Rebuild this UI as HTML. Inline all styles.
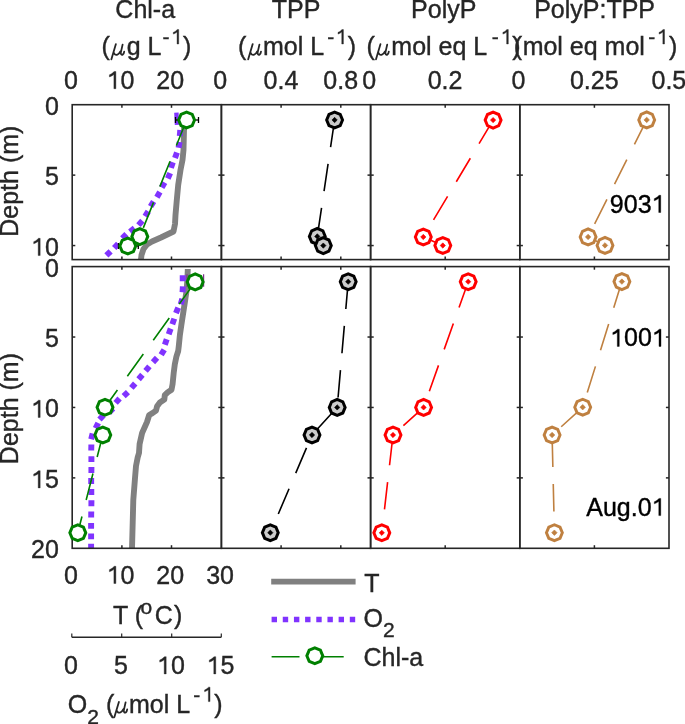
<!DOCTYPE html><html><head><meta charset="utf-8"><style>html,body{margin:0;padding:0;background:#fff;width:685px;height:724px;overflow:hidden}#w{position:absolute;left:0;top:0;width:685px;height:724px;will-change:transform}svg{display:block}</style></head><body><div id="w"><svg width="685" height="724" viewBox="0 0 685 724">
<defs><clipPath id="c1t"><rect x="72.2" y="104.7" width="149.2" height="154.90000000000003"/></clipPath><clipPath id="c1b"><rect x="72.2" y="266.6" width="149.2" height="281.69999999999993"/></clipPath></defs>
<g clip-path="url(#c1t)">
<polyline points="184.50,121.00 184.00,130.00 183.50,150.00 182.50,160.00 180.50,170.00 178.20,185.00 176.80,200.00 175.50,215.00 175.00,224.00 173.50,231.50 161.00,237.50 152.00,241.50 147.00,244.50 143.50,249.00 141.50,255.00 140.80,261.00" fill="none" stroke="#808080" stroke-width="5.9" stroke-linecap="butt" stroke-linejoin="round" />
<line x1="176.40" y1="112.60" x2="177.00" y2="124.80" stroke="#8033FF" stroke-width="4.4" />
<line x1="180.22" y1="130.06" x2="179.78" y2="135.94" stroke="#8033FF" stroke-width="5.9"/>
<line x1="179.62" y1="141.90" x2="178.58" y2="147.70" stroke="#8033FF" stroke-width="5.9"/>
<line x1="176.99" y1="152.42" x2="175.01" y2="157.98" stroke="#8033FF" stroke-width="5.9"/>
<line x1="172.85" y1="162.31" x2="170.95" y2="167.89" stroke="#8033FF" stroke-width="5.9"/>
<line x1="170.18" y1="173.10" x2="167.82" y2="178.50" stroke="#8033FF" stroke-width="5.9"/>
<line x1="164.65" y1="182.43" x2="161.75" y2="187.57" stroke="#8033FF" stroke-width="5.9"/>
<line x1="159.89" y1="192.05" x2="156.91" y2="197.15" stroke="#8033FF" stroke-width="5.9"/>
<line x1="153.63" y1="201.48" x2="150.57" y2="206.52" stroke="#8033FF" stroke-width="5.9"/>
<line x1="148.25" y1="211.39" x2="145.15" y2="216.41" stroke="#8033FF" stroke-width="5.9"/>
<line x1="142.37" y1="220.70" x2="138.43" y2="225.10" stroke="#8033FF" stroke-width="5.9"/>
<line x1="134.57" y1="228.11" x2="130.03" y2="231.89" stroke="#8033FF" stroke-width="5.9"/>
<line x1="126.41" y1="234.23" x2="122.19" y2="238.37" stroke="#8033FF" stroke-width="5.9"/>
<line x1="118.20" y1="243.63" x2="114.20" y2="247.97" stroke="#8033FF" stroke-width="5.9"/>
<line x1="110.60" y1="251.33" x2="106.40" y2="255.47" stroke="#8033FF" stroke-width="5.9"/>
<polyline points="186.60,120.00 139.80,236.60 127.80,246.00" fill="none" stroke="#008000" stroke-width="1.6" stroke-linecap="butt" stroke-linejoin="round" stroke-dasharray="27.4 17.0" />
</g>
<g clip-path="url(#c1b)">
<polyline points="187.80,269.00 187.30,281.00 186.50,291.00 184.90,302.00 183.20,313.00 181.50,324.00 179.90,335.00 178.80,346.00 178.20,351.00 176.40,356.60 174.80,364.30 173.70,373.00 172.60,384.00 171.50,389.70 167.60,392.40 164.80,395.20 164.30,399.60 159.90,402.40 157.10,406.20 156.00,410.60 152.10,413.40 149.20,415.00 147.00,422.00 142.10,433.00 139.60,444.00 139.00,453.00 137.70,457.40 136.00,466.00 134.90,479.50 133.30,500.00 132.00,549.00" fill="none" stroke="#808080" stroke-width="5.9" stroke-linecap="butt" stroke-linejoin="round" />
<line x1="182.70" y1="275.35" x2="182.70" y2="281.25" stroke="#8033FF" stroke-width="5.9"/>
<line x1="182.85" y1="286.35" x2="182.55" y2="292.25" stroke="#8033FF" stroke-width="5.9"/>
<line x1="182.26" y1="298.65" x2="180.74" y2="304.35" stroke="#8033FF" stroke-width="5.9"/>
<line x1="178.22" y1="307.67" x2="175.98" y2="313.13" stroke="#8033FF" stroke-width="5.9"/>
<line x1="174.28" y1="318.62" x2="172.32" y2="324.18" stroke="#8033FF" stroke-width="5.9"/>
<line x1="170.71" y1="328.63" x2="168.69" y2="334.17" stroke="#8033FF" stroke-width="5.9"/>
<line x1="166.74" y1="339.20" x2="164.86" y2="344.80" stroke="#8033FF" stroke-width="5.9"/>
<line x1="164.22" y1="349.67" x2="161.18" y2="354.73" stroke="#8033FF" stroke-width="5.9"/>
<line x1="157.00" y1="357.83" x2="153.00" y2="362.17" stroke="#8033FF" stroke-width="5.9"/>
<line x1="149.41" y1="366.46" x2="145.59" y2="370.94" stroke="#8033FF" stroke-width="5.9"/>
<line x1="142.39" y1="374.74" x2="138.61" y2="379.26" stroke="#8033FF" stroke-width="5.9"/>
<line x1="135.22" y1="383.46" x2="131.38" y2="387.94" stroke="#8033FF" stroke-width="5.9"/>
<line x1="127.93" y1="392.16" x2="123.67" y2="396.24" stroke="#8033FF" stroke-width="5.9"/>
<line x1="119.58" y1="398.52" x2="115.62" y2="402.88" stroke="#8033FF" stroke-width="5.9"/>
<line x1="113.05" y1="408.38" x2="108.95" y2="412.62" stroke="#8033FF" stroke-width="5.9"/>
<line x1="103.51" y1="415.14" x2="99.49" y2="419.46" stroke="#8033FF" stroke-width="5.9"/>
<line x1="98.22" y1="422.96" x2="95.58" y2="428.24" stroke="#8033FF" stroke-width="5.9"/>
<line x1="92.63" y1="433.54" x2="91.17" y2="439.26" stroke="#8033FF" stroke-width="5.9"/>
<line x1="91.36" y1="444.55" x2="91.24" y2="450.45" stroke="#8033FF" stroke-width="5.9"/>
<line x1="91.39" y1="456.15" x2="91.41" y2="462.05" stroke="#8033FF" stroke-width="5.9"/>
<line x1="91.43" y1="467.05" x2="91.37" y2="472.95" stroke="#8033FF" stroke-width="5.9"/>
<line x1="91.21" y1="478.05" x2="91.19" y2="483.95" stroke="#8033FF" stroke-width="5.9"/>
<line x1="91.27" y1="489.05" x2="91.33" y2="494.95" stroke="#8033FF" stroke-width="5.9"/>
<line x1="91.41" y1="500.35" x2="91.39" y2="506.25" stroke="#8033FF" stroke-width="5.9"/>
<line x1="91.24" y1="511.55" x2="91.16" y2="517.45" stroke="#8033FF" stroke-width="5.9"/>
<line x1="91.11" y1="522.95" x2="91.09" y2="528.85" stroke="#8033FF" stroke-width="5.9"/>
<line x1="91.10" y1="533.45" x2="91.10" y2="539.35" stroke="#8033FF" stroke-width="5.9"/>
<line x1="91.10" y1="543.65" x2="91.10" y2="549.55" stroke="#8033FF" stroke-width="5.9"/>
<polyline points="195.20,281.90 105.00,407.30 102.80,435.00 77.80,532.80" fill="none" stroke="#008000" stroke-width="1.6" stroke-linecap="butt" stroke-linejoin="round" stroke-dasharray="27.4 17.0" />
</g>
<polyline points="334.60,120.00 317.30,236.40 323.30,245.60" fill="none" stroke="#000000" stroke-width="1.6" stroke-linecap="butt" stroke-linejoin="round" stroke-dasharray="27.4 17.0" />
<polyline points="348.20,281.70 337.20,407.40 312.00,435.00 270.30,532.70" fill="none" stroke="#000000" stroke-width="1.6" stroke-linecap="butt" stroke-linejoin="round" stroke-dasharray="27.4 17.0" />
<polyline points="493.10,120.10 423.30,237.00 442.80,245.50" fill="none" stroke="#FF0000" stroke-width="1.6" stroke-linecap="butt" stroke-linejoin="round" stroke-dasharray="27.4 17.0" />
<polyline points="468.20,281.70 423.60,407.40 393.00,435.00 381.80,532.80" fill="none" stroke="#FF0000" stroke-width="1.6" stroke-linecap="butt" stroke-linejoin="round" stroke-dasharray="27.4 17.0" />
<polyline points="646.70,119.90 588.10,236.90 605.00,245.40" fill="none" stroke="#BF8040" stroke-width="1.6" stroke-linecap="butt" stroke-linejoin="round" stroke-dasharray="27.4 17.0" />
<polyline points="621.90,281.60 582.70,407.20 552.10,435.00 554.40,532.70" fill="none" stroke="#BF8040" stroke-width="1.6" stroke-linecap="butt" stroke-linejoin="round" stroke-dasharray="27.4 17.0" />
<rect x="72.2" y="104.7" width="149.20" height="154.90" fill="none" stroke="#262626" stroke-width="1.6"/>
<line x1="121.90" y1="104.70" x2="121.90" y2="107.80" stroke="#262626" stroke-width="1.5" />
<line x1="121.90" y1="259.60" x2="121.90" y2="256.50" stroke="#262626" stroke-width="1.5" />
<line x1="171.50" y1="104.70" x2="171.50" y2="107.80" stroke="#262626" stroke-width="1.5" />
<line x1="171.50" y1="259.60" x2="171.50" y2="256.50" stroke="#262626" stroke-width="1.5" />
<line x1="72.20" y1="175.12" x2="75.30" y2="175.12" stroke="#262626" stroke-width="1.5" />
<line x1="221.40" y1="175.12" x2="218.30" y2="175.12" stroke="#262626" stroke-width="1.5" />
<line x1="72.20" y1="245.55" x2="75.30" y2="245.55" stroke="#262626" stroke-width="1.5" />
<line x1="221.40" y1="245.55" x2="218.30" y2="245.55" stroke="#262626" stroke-width="1.5" />
<rect x="221.4" y="104.7" width="149.20" height="154.90" fill="none" stroke="#262626" stroke-width="1.6"/>
<line x1="281.10" y1="104.70" x2="281.10" y2="107.80" stroke="#262626" stroke-width="1.5" />
<line x1="281.10" y1="259.60" x2="281.10" y2="256.50" stroke="#262626" stroke-width="1.5" />
<line x1="340.80" y1="104.70" x2="340.80" y2="107.80" stroke="#262626" stroke-width="1.5" />
<line x1="340.80" y1="259.60" x2="340.80" y2="256.50" stroke="#262626" stroke-width="1.5" />
<line x1="221.40" y1="175.12" x2="224.50" y2="175.12" stroke="#262626" stroke-width="1.5" />
<line x1="370.60" y1="175.12" x2="367.50" y2="175.12" stroke="#262626" stroke-width="1.5" />
<line x1="221.40" y1="245.55" x2="224.50" y2="245.55" stroke="#262626" stroke-width="1.5" />
<line x1="370.60" y1="245.55" x2="367.50" y2="245.55" stroke="#262626" stroke-width="1.5" />
<rect x="370.6" y="104.7" width="149.20" height="154.90" fill="none" stroke="#262626" stroke-width="1.6"/>
<line x1="445.20" y1="104.70" x2="445.20" y2="107.80" stroke="#262626" stroke-width="1.5" />
<line x1="445.20" y1="259.60" x2="445.20" y2="256.50" stroke="#262626" stroke-width="1.5" />
<line x1="370.60" y1="175.12" x2="373.70" y2="175.12" stroke="#262626" stroke-width="1.5" />
<line x1="519.80" y1="175.12" x2="516.70" y2="175.12" stroke="#262626" stroke-width="1.5" />
<line x1="370.60" y1="245.55" x2="373.70" y2="245.55" stroke="#262626" stroke-width="1.5" />
<line x1="519.80" y1="245.55" x2="516.70" y2="245.55" stroke="#262626" stroke-width="1.5" />
<rect x="519.8" y="104.7" width="149.20" height="154.90" fill="none" stroke="#262626" stroke-width="1.6"/>
<line x1="594.40" y1="104.70" x2="594.40" y2="107.80" stroke="#262626" stroke-width="1.5" />
<line x1="594.40" y1="259.60" x2="594.40" y2="256.50" stroke="#262626" stroke-width="1.5" />
<line x1="519.80" y1="175.12" x2="522.90" y2="175.12" stroke="#262626" stroke-width="1.5" />
<line x1="669.00" y1="175.12" x2="665.90" y2="175.12" stroke="#262626" stroke-width="1.5" />
<line x1="519.80" y1="245.55" x2="522.90" y2="245.55" stroke="#262626" stroke-width="1.5" />
<line x1="669.00" y1="245.55" x2="665.90" y2="245.55" stroke="#262626" stroke-width="1.5" />
<rect x="72.2" y="266.6" width="149.20" height="281.70" fill="none" stroke="#262626" stroke-width="1.6"/>
<line x1="121.90" y1="266.60" x2="121.90" y2="269.70" stroke="#262626" stroke-width="1.5" />
<line x1="121.90" y1="548.30" x2="121.90" y2="545.20" stroke="#262626" stroke-width="1.5" />
<line x1="171.50" y1="266.60" x2="171.50" y2="269.70" stroke="#262626" stroke-width="1.5" />
<line x1="171.50" y1="548.30" x2="171.50" y2="545.20" stroke="#262626" stroke-width="1.5" />
<line x1="72.20" y1="337.03" x2="75.30" y2="337.03" stroke="#262626" stroke-width="1.5" />
<line x1="221.40" y1="337.03" x2="218.30" y2="337.03" stroke="#262626" stroke-width="1.5" />
<line x1="72.20" y1="407.45" x2="75.30" y2="407.45" stroke="#262626" stroke-width="1.5" />
<line x1="221.40" y1="407.45" x2="218.30" y2="407.45" stroke="#262626" stroke-width="1.5" />
<line x1="72.20" y1="477.88" x2="75.30" y2="477.88" stroke="#262626" stroke-width="1.5" />
<line x1="221.40" y1="477.88" x2="218.30" y2="477.88" stroke="#262626" stroke-width="1.5" />
<rect x="221.4" y="266.6" width="149.20" height="281.70" fill="none" stroke="#262626" stroke-width="1.6"/>
<line x1="281.10" y1="266.60" x2="281.10" y2="269.70" stroke="#262626" stroke-width="1.5" />
<line x1="281.10" y1="548.30" x2="281.10" y2="545.20" stroke="#262626" stroke-width="1.5" />
<line x1="340.80" y1="266.60" x2="340.80" y2="269.70" stroke="#262626" stroke-width="1.5" />
<line x1="340.80" y1="548.30" x2="340.80" y2="545.20" stroke="#262626" stroke-width="1.5" />
<line x1="221.40" y1="337.03" x2="224.50" y2="337.03" stroke="#262626" stroke-width="1.5" />
<line x1="370.60" y1="337.03" x2="367.50" y2="337.03" stroke="#262626" stroke-width="1.5" />
<line x1="221.40" y1="407.45" x2="224.50" y2="407.45" stroke="#262626" stroke-width="1.5" />
<line x1="370.60" y1="407.45" x2="367.50" y2="407.45" stroke="#262626" stroke-width="1.5" />
<line x1="221.40" y1="477.88" x2="224.50" y2="477.88" stroke="#262626" stroke-width="1.5" />
<line x1="370.60" y1="477.88" x2="367.50" y2="477.88" stroke="#262626" stroke-width="1.5" />
<rect x="370.6" y="266.6" width="149.20" height="281.70" fill="none" stroke="#262626" stroke-width="1.6"/>
<line x1="445.20" y1="266.60" x2="445.20" y2="269.70" stroke="#262626" stroke-width="1.5" />
<line x1="445.20" y1="548.30" x2="445.20" y2="545.20" stroke="#262626" stroke-width="1.5" />
<line x1="370.60" y1="337.03" x2="373.70" y2="337.03" stroke="#262626" stroke-width="1.5" />
<line x1="519.80" y1="337.03" x2="516.70" y2="337.03" stroke="#262626" stroke-width="1.5" />
<line x1="370.60" y1="407.45" x2="373.70" y2="407.45" stroke="#262626" stroke-width="1.5" />
<line x1="519.80" y1="407.45" x2="516.70" y2="407.45" stroke="#262626" stroke-width="1.5" />
<line x1="370.60" y1="477.88" x2="373.70" y2="477.88" stroke="#262626" stroke-width="1.5" />
<line x1="519.80" y1="477.88" x2="516.70" y2="477.88" stroke="#262626" stroke-width="1.5" />
<rect x="519.8" y="266.6" width="149.20" height="281.70" fill="none" stroke="#262626" stroke-width="1.6"/>
<line x1="594.40" y1="266.60" x2="594.40" y2="269.70" stroke="#262626" stroke-width="1.5" />
<line x1="594.40" y1="548.30" x2="594.40" y2="545.20" stroke="#262626" stroke-width="1.5" />
<line x1="519.80" y1="337.03" x2="522.90" y2="337.03" stroke="#262626" stroke-width="1.5" />
<line x1="669.00" y1="337.03" x2="665.90" y2="337.03" stroke="#262626" stroke-width="1.5" />
<line x1="519.80" y1="407.45" x2="522.90" y2="407.45" stroke="#262626" stroke-width="1.5" />
<line x1="669.00" y1="407.45" x2="665.90" y2="407.45" stroke="#262626" stroke-width="1.5" />
<line x1="519.80" y1="477.88" x2="522.90" y2="477.88" stroke="#262626" stroke-width="1.5" />
<line x1="669.00" y1="477.88" x2="665.90" y2="477.88" stroke="#262626" stroke-width="1.5" />
<line x1="175.50" y1="120.00" x2="198.50" y2="120.00" stroke="#000000" stroke-width="1.3" />
<line x1="175.50" y1="117.00" x2="175.50" y2="123.00" stroke="#000000" stroke-width="1.3" />
<line x1="198.50" y1="117.00" x2="198.50" y2="123.00" stroke="#000000" stroke-width="1.3" />
<line x1="118.50" y1="246.00" x2="138.30" y2="246.00" stroke="#000000" stroke-width="1.3" />
<line x1="118.50" y1="243.00" x2="118.50" y2="249.00" stroke="#000000" stroke-width="1.3" />
<line x1="138.30" y1="243.00" x2="138.30" y2="249.00" stroke="#000000" stroke-width="1.3" />
<line x1="187.00" y1="274.20" x2="187.00" y2="286.70" stroke="#7E2F8E" stroke-width="1.2" />
<line x1="203.60" y1="274.20" x2="203.60" y2="286.70" stroke="#7E2F8E" stroke-width="1.2" />
<polygon points="194.54,120.00 192.21,125.61 186.60,127.94 180.99,125.61 178.66,120.00 180.99,114.39 186.60,112.06 192.21,114.39" fill="#fff" stroke="#008000" stroke-width="3.0" stroke-linejoin="miter"/>
<polygon points="147.74,236.60 145.41,242.21 139.80,244.54 134.19,242.21 131.86,236.60 134.19,230.99 139.80,228.66 145.41,230.99" fill="#fff" stroke="#008000" stroke-width="3.0" stroke-linejoin="miter"/>
<polygon points="135.74,246.00 133.41,251.61 127.80,253.94 122.19,251.61 119.86,246.00 122.19,240.39 127.80,238.06 133.41,240.39" fill="#fff" stroke="#008000" stroke-width="3.0" stroke-linejoin="miter"/>
<polygon points="203.14,281.90 200.81,287.51 195.20,289.84 189.59,287.51 187.26,281.90 189.59,276.29 195.20,273.96 200.81,276.29" fill="#fff" stroke="#008000" stroke-width="3.0" stroke-linejoin="miter"/>
<polygon points="112.94,407.30 110.61,412.91 105.00,415.24 99.39,412.91 97.06,407.30 99.39,401.69 105.00,399.36 110.61,401.69" fill="#fff" stroke="#008000" stroke-width="3.0" stroke-linejoin="miter"/>
<polygon points="110.74,435.00 108.41,440.61 102.80,442.94 97.19,440.61 94.86,435.00 97.19,429.39 102.80,427.06 108.41,429.39" fill="#fff" stroke="#008000" stroke-width="3.0" stroke-linejoin="miter"/>
<polygon points="85.74,532.80 83.41,538.41 77.80,540.74 72.19,538.41 69.86,532.80 72.19,527.19 77.80,524.86 83.41,527.19" fill="#fff" stroke="#008000" stroke-width="3.0" stroke-linejoin="miter"/>
<polygon points="342.54,120.00 340.21,125.61 334.60,127.94 328.99,125.61 326.66,120.00 328.99,114.39 334.60,112.06 340.21,114.39" fill="#CCCCCC" stroke="#000000" stroke-width="3.0" stroke-linejoin="miter"/>
<polygon points="334.60,117.35 337.25,120.00 334.60,122.65 331.95,120.00" fill="#000000" stroke="#000000" stroke-width="0.6" stroke-linejoin="round"/>
<polygon points="325.24,236.40 322.91,242.01 317.30,244.34 311.69,242.01 309.36,236.40 311.69,230.79 317.30,228.46 322.91,230.79" fill="#CCCCCC" stroke="#000000" stroke-width="3.0" stroke-linejoin="miter"/>
<polygon points="317.30,233.75 319.95,236.40 317.30,239.05 314.65,236.40" fill="#000000" stroke="#000000" stroke-width="0.6" stroke-linejoin="round"/>
<polygon points="331.24,245.60 328.91,251.21 323.30,253.54 317.69,251.21 315.36,245.60 317.69,239.99 323.30,237.66 328.91,239.99" fill="#CCCCCC" stroke="#000000" stroke-width="3.0" stroke-linejoin="miter"/>
<polygon points="323.30,242.95 325.95,245.60 323.30,248.25 320.65,245.60" fill="#000000" stroke="#000000" stroke-width="0.6" stroke-linejoin="round"/>
<polygon points="356.14,281.70 353.81,287.31 348.20,289.64 342.59,287.31 340.26,281.70 342.59,276.09 348.20,273.76 353.81,276.09" fill="#CCCCCC" stroke="#000000" stroke-width="3.0" stroke-linejoin="miter"/>
<polygon points="348.20,279.05 350.85,281.70 348.20,284.35 345.55,281.70" fill="#000000" stroke="#000000" stroke-width="0.6" stroke-linejoin="round"/>
<polygon points="345.14,407.40 342.81,413.01 337.20,415.34 331.59,413.01 329.26,407.40 331.59,401.79 337.20,399.46 342.81,401.79" fill="#CCCCCC" stroke="#000000" stroke-width="3.0" stroke-linejoin="miter"/>
<polygon points="337.20,404.75 339.85,407.40 337.20,410.05 334.55,407.40" fill="#000000" stroke="#000000" stroke-width="0.6" stroke-linejoin="round"/>
<polygon points="319.94,435.00 317.61,440.61 312.00,442.94 306.39,440.61 304.06,435.00 306.39,429.39 312.00,427.06 317.61,429.39" fill="#CCCCCC" stroke="#000000" stroke-width="3.0" stroke-linejoin="miter"/>
<polygon points="312.00,432.35 314.65,435.00 312.00,437.65 309.35,435.00" fill="#000000" stroke="#000000" stroke-width="0.6" stroke-linejoin="round"/>
<polygon points="278.24,532.70 275.91,538.31 270.30,540.64 264.69,538.31 262.36,532.70 264.69,527.09 270.30,524.76 275.91,527.09" fill="#CCCCCC" stroke="#000000" stroke-width="3.0" stroke-linejoin="miter"/>
<polygon points="270.30,530.05 272.95,532.70 270.30,535.35 267.65,532.70" fill="#000000" stroke="#000000" stroke-width="0.6" stroke-linejoin="round"/>
<polygon points="501.04,120.10 498.71,125.71 493.10,128.04 487.49,125.71 485.16,120.10 487.49,114.49 493.10,112.16 498.71,114.49" fill="#fff" stroke="#FF0000" stroke-width="3.0" stroke-linejoin="miter"/>
<polygon points="493.10,117.45 495.75,120.10 493.10,122.75 490.45,120.10" fill="#FF0000" stroke="#FF0000" stroke-width="0.6" stroke-linejoin="round"/>
<polygon points="431.24,237.00 428.91,242.61 423.30,244.94 417.69,242.61 415.36,237.00 417.69,231.39 423.30,229.06 428.91,231.39" fill="#fff" stroke="#FF0000" stroke-width="3.0" stroke-linejoin="miter"/>
<polygon points="423.30,234.35 425.95,237.00 423.30,239.65 420.65,237.00" fill="#FF0000" stroke="#FF0000" stroke-width="0.6" stroke-linejoin="round"/>
<polygon points="450.74,245.50 448.41,251.11 442.80,253.44 437.19,251.11 434.86,245.50 437.19,239.89 442.80,237.56 448.41,239.89" fill="#fff" stroke="#FF0000" stroke-width="3.0" stroke-linejoin="miter"/>
<polygon points="442.80,242.85 445.45,245.50 442.80,248.15 440.15,245.50" fill="#FF0000" stroke="#FF0000" stroke-width="0.6" stroke-linejoin="round"/>
<polygon points="476.14,281.70 473.81,287.31 468.20,289.64 462.59,287.31 460.26,281.70 462.59,276.09 468.20,273.76 473.81,276.09" fill="#fff" stroke="#FF0000" stroke-width="3.0" stroke-linejoin="miter"/>
<polygon points="468.20,279.05 470.85,281.70 468.20,284.35 465.55,281.70" fill="#FF0000" stroke="#FF0000" stroke-width="0.6" stroke-linejoin="round"/>
<polygon points="431.54,407.40 429.21,413.01 423.60,415.34 417.99,413.01 415.66,407.40 417.99,401.79 423.60,399.46 429.21,401.79" fill="#fff" stroke="#FF0000" stroke-width="3.0" stroke-linejoin="miter"/>
<polygon points="423.60,404.75 426.25,407.40 423.60,410.05 420.95,407.40" fill="#FF0000" stroke="#FF0000" stroke-width="0.6" stroke-linejoin="round"/>
<polygon points="400.94,435.00 398.61,440.61 393.00,442.94 387.39,440.61 385.06,435.00 387.39,429.39 393.00,427.06 398.61,429.39" fill="#fff" stroke="#FF0000" stroke-width="3.0" stroke-linejoin="miter"/>
<polygon points="393.00,432.35 395.65,435.00 393.00,437.65 390.35,435.00" fill="#FF0000" stroke="#FF0000" stroke-width="0.6" stroke-linejoin="round"/>
<polygon points="389.74,532.80 387.41,538.41 381.80,540.74 376.19,538.41 373.86,532.80 376.19,527.19 381.80,524.86 387.41,527.19" fill="#fff" stroke="#FF0000" stroke-width="3.0" stroke-linejoin="miter"/>
<polygon points="381.80,530.15 384.45,532.80 381.80,535.45 379.15,532.80" fill="#FF0000" stroke="#FF0000" stroke-width="0.6" stroke-linejoin="round"/>
<polygon points="654.64,119.90 652.31,125.51 646.70,127.84 641.09,125.51 638.76,119.90 641.09,114.29 646.70,111.96 652.31,114.29" fill="#fff" stroke="#BF8040" stroke-width="2.95" stroke-linejoin="miter"/>
<polygon points="646.70,117.16 649.44,119.90 646.70,122.64 643.96,119.90" fill="#BF8040" stroke="#BF8040" stroke-width="0.6" stroke-linejoin="round"/>
<polygon points="596.04,236.90 593.71,242.51 588.10,244.84 582.49,242.51 580.16,236.90 582.49,231.29 588.10,228.96 593.71,231.29" fill="#fff" stroke="#BF8040" stroke-width="2.95" stroke-linejoin="miter"/>
<polygon points="588.10,234.16 590.84,236.90 588.10,239.64 585.36,236.90" fill="#BF8040" stroke="#BF8040" stroke-width="0.6" stroke-linejoin="round"/>
<polygon points="612.94,245.40 610.61,251.01 605.00,253.34 599.39,251.01 597.06,245.40 599.39,239.79 605.00,237.46 610.61,239.79" fill="#fff" stroke="#BF8040" stroke-width="2.95" stroke-linejoin="miter"/>
<polygon points="605.00,242.66 607.74,245.40 605.00,248.14 602.26,245.40" fill="#BF8040" stroke="#BF8040" stroke-width="0.6" stroke-linejoin="round"/>
<polygon points="629.84,281.60 627.51,287.21 621.90,289.54 616.29,287.21 613.96,281.60 616.29,275.99 621.90,273.66 627.51,275.99" fill="#fff" stroke="#BF8040" stroke-width="2.95" stroke-linejoin="miter"/>
<polygon points="621.90,278.86 624.64,281.60 621.90,284.34 619.16,281.60" fill="#BF8040" stroke="#BF8040" stroke-width="0.6" stroke-linejoin="round"/>
<polygon points="590.64,407.20 588.31,412.81 582.70,415.14 577.09,412.81 574.76,407.20 577.09,401.59 582.70,399.26 588.31,401.59" fill="#fff" stroke="#BF8040" stroke-width="2.95" stroke-linejoin="miter"/>
<polygon points="582.70,404.46 585.44,407.20 582.70,409.94 579.96,407.20" fill="#BF8040" stroke="#BF8040" stroke-width="0.6" stroke-linejoin="round"/>
<polygon points="560.04,435.00 557.71,440.61 552.10,442.94 546.49,440.61 544.16,435.00 546.49,429.39 552.10,427.06 557.71,429.39" fill="#fff" stroke="#BF8040" stroke-width="2.95" stroke-linejoin="miter"/>
<polygon points="552.10,432.26 554.84,435.00 552.10,437.74 549.36,435.00" fill="#BF8040" stroke="#BF8040" stroke-width="0.6" stroke-linejoin="round"/>
<polygon points="562.34,532.70 560.01,538.31 554.40,540.64 548.79,538.31 546.46,532.70 548.79,527.09 554.40,524.76 560.01,527.09" fill="#fff" stroke="#BF8040" stroke-width="2.95" stroke-linejoin="miter"/>
<polygon points="554.40,529.96 557.14,532.70 554.40,535.44 551.66,532.70" fill="#BF8040" stroke="#BF8040" stroke-width="0.6" stroke-linejoin="round"/>
<text x="58.80" y="114.70" font-family='"Liberation Sans", sans-serif' font-size="25" text-anchor="end" fill="#262626" stroke="#262626" stroke-width="0.38" >0</text>
<text x="58.80" y="185.12" font-family='"Liberation Sans", sans-serif' font-size="25" text-anchor="end" fill="#262626" stroke="#262626" stroke-width="0.38" >5</text>
<path d="M38.19,255.55 L38.19,241.39 L36.85,242.31 L35.51,243.04 L33.71,243.77 L33.71,241.70 L35.39,240.90 L36.73,239.93 L37.83,238.95 L38.46,238.35 L40.17,238.35 L40.17,255.55Z" fill="#262626" stroke="#262626" stroke-width="0.38" stroke-linejoin="round"/>
<text x="44.90" y="255.55" font-family='"Liberation Sans", sans-serif' font-size="25" fill="#262626" stroke="#262626" stroke-width="0.38" >0</text>
<text x="58.80" y="276.60" font-family='"Liberation Sans", sans-serif' font-size="25" text-anchor="end" fill="#262626" stroke="#262626" stroke-width="0.38" >0</text>
<text x="58.80" y="347.03" font-family='"Liberation Sans", sans-serif' font-size="25" text-anchor="end" fill="#262626" stroke="#262626" stroke-width="0.38" >5</text>
<path d="M38.19,417.45 L38.19,403.29 L36.85,404.21 L35.51,404.94 L33.71,405.67 L33.71,403.60 L35.39,402.80 L36.73,401.83 L37.83,400.85 L38.46,400.25 L40.17,400.25 L40.17,417.45Z" fill="#262626" stroke="#262626" stroke-width="0.38" stroke-linejoin="round"/>
<text x="44.90" y="417.45" font-family='"Liberation Sans", sans-serif' font-size="25" fill="#262626" stroke="#262626" stroke-width="0.38" >0</text>
<path d="M38.19,487.88 L38.19,473.71 L36.85,474.63 L35.51,475.36 L33.71,476.10 L33.71,474.02 L35.39,473.23 L36.73,472.25 L37.83,471.27 L38.46,470.68 L40.17,470.68 L40.17,487.88Z" fill="#262626" stroke="#262626" stroke-width="0.38" stroke-linejoin="round"/>
<text x="44.90" y="487.88" font-family='"Liberation Sans", sans-serif' font-size="25" fill="#262626" stroke="#262626" stroke-width="0.38" >5</text>
<text x="58.80" y="558.30" font-family='"Liberation Sans", sans-serif' font-size="25" text-anchor="end" fill="#262626" stroke="#262626" stroke-width="0.38" >20</text>
<text x="70.90" y="88.70" font-family='"Liberation Sans", sans-serif' font-size="25" text-anchor="middle" fill="#262626" stroke="#262626" stroke-width="0.38" >0</text>
<path d="M113.90,88.70 L113.90,74.54 L112.56,75.46 L111.21,76.19 L109.42,76.92 L109.42,74.85 L111.09,74.05 L112.43,73.08 L113.53,72.10 L114.17,71.50 L115.88,71.50 L115.88,88.70Z" fill="#262626" stroke="#262626" stroke-width="0.38" stroke-linejoin="round"/>
<text x="120.60" y="88.70" font-family='"Liberation Sans", sans-serif' font-size="25" fill="#262626" stroke="#262626" stroke-width="0.38" >0</text>
<text x="170.20" y="88.70" font-family='"Liberation Sans", sans-serif' font-size="25" text-anchor="middle" fill="#262626" stroke="#262626" stroke-width="0.38" >20</text>
<text x="220.10" y="88.70" font-family='"Liberation Sans", sans-serif' font-size="25" text-anchor="middle" fill="#262626" stroke="#262626" stroke-width="0.38" >0</text>
<text x="281.00" y="88.70" font-family='"Liberation Sans", sans-serif' font-size="25" text-anchor="middle" fill="#262626" stroke="#262626" stroke-width="0.38" >0.4</text>
<text x="340.70" y="88.70" font-family='"Liberation Sans", sans-serif' font-size="25" text-anchor="middle" fill="#262626" stroke="#262626" stroke-width="0.38" >0.8</text>
<text x="369.30" y="88.70" font-family='"Liberation Sans", sans-serif' font-size="25" text-anchor="middle" fill="#262626" stroke="#262626" stroke-width="0.38" >0</text>
<text x="445.10" y="88.70" font-family='"Liberation Sans", sans-serif' font-size="25" text-anchor="middle" fill="#262626" stroke="#262626" stroke-width="0.38" >0.2</text>
<text x="518.50" y="88.70" font-family='"Liberation Sans", sans-serif' font-size="25" text-anchor="middle" fill="#262626" stroke="#262626" stroke-width="0.38" >0</text>
<text x="594.30" y="88.70" font-family='"Liberation Sans", sans-serif' font-size="25" text-anchor="middle" fill="#262626" stroke="#262626" stroke-width="0.38" >0.25</text>
<text x="668.90" y="88.70" font-family='"Liberation Sans", sans-serif' font-size="25" text-anchor="middle" fill="#262626" stroke="#262626" stroke-width="0.38" >0.5</text>
<text x="70.90" y="583.50" font-family='"Liberation Sans", sans-serif' font-size="25" text-anchor="middle" fill="#262626" stroke="#262626" stroke-width="0.38" >0</text>
<path d="M113.90,583.50 L113.90,569.34 L112.56,570.26 L111.21,570.99 L109.42,571.72 L109.42,569.65 L111.09,568.85 L112.43,567.88 L113.53,566.90 L114.17,566.30 L115.88,566.30 L115.88,583.50Z" fill="#262626" stroke="#262626" stroke-width="0.38" stroke-linejoin="round"/>
<text x="120.60" y="583.50" font-family='"Liberation Sans", sans-serif' font-size="25" fill="#262626" stroke="#262626" stroke-width="0.38" >0</text>
<text x="170.20" y="583.50" font-family='"Liberation Sans", sans-serif' font-size="25" text-anchor="middle" fill="#262626" stroke="#262626" stroke-width="0.38" >20</text>
<text x="220.10" y="583.50" font-family='"Liberation Sans", sans-serif' font-size="25" text-anchor="middle" fill="#262626" stroke="#262626" stroke-width="0.38" >30</text>
<line x1="71.80" y1="637.30" x2="221.30" y2="637.30" stroke="#262626" stroke-width="1.5" />
<line x1="71.80" y1="637.30" x2="71.80" y2="633.40" stroke="#262626" stroke-width="1.2" />
<line x1="121.70" y1="637.30" x2="121.70" y2="633.40" stroke="#262626" stroke-width="1.2" />
<line x1="171.70" y1="637.30" x2="171.70" y2="633.40" stroke="#262626" stroke-width="1.2" />
<line x1="221.30" y1="637.30" x2="221.30" y2="633.40" stroke="#262626" stroke-width="1.2" />
<text x="71.00" y="673.90" font-family='"Liberation Sans", sans-serif' font-size="25" text-anchor="middle" fill="#262626" stroke="#262626" stroke-width="0.38" >0</text>
<text x="120.90" y="673.90" font-family='"Liberation Sans", sans-serif' font-size="25" text-anchor="middle" fill="#262626" stroke="#262626" stroke-width="0.38" >5</text>
<path d="M164.20,673.90 L164.20,659.74 L162.86,660.66 L161.51,661.39 L159.72,662.12 L159.72,660.05 L161.39,659.25 L162.73,658.27 L163.83,657.30 L164.47,656.70 L166.18,656.70 L166.18,673.90Z" fill="#262626" stroke="#262626" stroke-width="0.38" stroke-linejoin="round"/>
<text x="170.90" y="673.90" font-family='"Liberation Sans", sans-serif' font-size="25" fill="#262626" stroke="#262626" stroke-width="0.38" >0</text>
<path d="M213.80,673.90 L213.80,659.74 L212.46,660.66 L211.11,661.39 L209.32,662.12 L209.32,660.05 L210.99,659.25 L212.33,658.27 L213.43,657.30 L214.07,656.70 L215.78,656.70 L215.78,673.90Z" fill="#262626" stroke="#262626" stroke-width="0.38" stroke-linejoin="round"/>
<text x="220.50" y="673.90" font-family='"Liberation Sans", sans-serif' font-size="25" fill="#262626" stroke="#262626" stroke-width="0.38" >5</text>
<text x="115.33" y="18.35" font-family='"Liberation Sans", sans-serif' font-size="25" text-anchor="start" fill="#262626" stroke="#262626" stroke-width="0.38" >Chl-a</text>
<text x="271.84" y="18.35" font-family='"Liberation Sans", sans-serif' font-size="25" text-anchor="start" fill="#262626" stroke="#262626" stroke-width="0.38" >TPP</text>
<text x="411.05" y="18.35" font-family='"Liberation Sans", sans-serif' font-size="25" text-anchor="start" fill="#262626" stroke="#262626" stroke-width="0.38" >PolyP</text>
<text x="534.15" y="18.35" font-family='"Liberation Sans", sans-serif' font-size="25" text-anchor="start" fill="#262626" stroke="#262626" stroke-width="0.38" >PolyP:TPP</text>
<text x="101.55" y="55.00" font-family='"Liberation Sans", sans-serif' font-size="25" text-anchor="start" fill="#262626" stroke="#262626" stroke-width="0.38" >(</text>
<path d="M115.90,44.10 L111.40,59.30 M113.60,52.40 Q114.70,55.60 117.30,54.70 Q119.30,53.80 120.40,51.40 M122.60,44.60 L120.80,52.60 Q120.70,55.30 122.80,54.60 Q123.90,53.80 124.20,51.60" fill="none" stroke="#262626" stroke-width="1.8" stroke-linecap="round" stroke-linejoin="round"/>
<text x="126.75" y="55.00" font-family='"Liberation Sans", sans-serif' font-size="25" text-anchor="start" fill="#262626" stroke="#262626" stroke-width="0.38" >g L</text>
<text x="162.47" y="44.00" font-family='"Liberation Sans", sans-serif' font-size="21" text-anchor="start" fill="#262626" stroke="#262626" stroke-width="0.38" >-</text>
<path d="M177.06,44.00 L177.06,32.11 L175.94,32.87 L174.81,33.49 L173.30,34.10 L173.30,32.36 L174.70,31.70 L175.83,30.88 L176.76,30.05 L177.29,29.55 L178.72,29.55 L178.72,44.00Z" fill="#262626" stroke="#262626" stroke-width="0.38" stroke-linejoin="round"/>
<text x="183.05" y="55.00" font-family='"Liberation Sans", sans-serif' font-size="25" text-anchor="start" fill="#262626" stroke="#262626" stroke-width="0.38" >)</text>
<text x="238.05" y="55.00" font-family='"Liberation Sans", sans-serif' font-size="25" text-anchor="start" fill="#262626" stroke="#262626" stroke-width="0.38" >(</text>
<path d="M252.70,44.10 L248.20,59.30 M250.40,52.40 Q251.50,55.60 254.10,54.70 Q256.10,53.80 257.20,51.40 M259.40,44.60 L257.60,52.60 Q257.50,55.30 259.60,54.60 Q260.70,53.80 261.00,51.60" fill="none" stroke="#262626" stroke-width="1.8" stroke-linecap="round" stroke-linejoin="round"/>
<text x="263.04" y="55.00" font-family='"Liberation Sans", sans-serif' font-size="25" text-anchor="start" fill="#262626" stroke="#262626" stroke-width="0.38" >mol L</text>
<text x="327.17" y="44.00" font-family='"Liberation Sans", sans-serif' font-size="21" text-anchor="start" fill="#262626" stroke="#262626" stroke-width="0.38" >-</text>
<path d="M341.76,44.00 L341.76,32.11 L340.64,32.87 L339.51,33.49 L338.00,34.10 L338.00,32.36 L339.40,31.70 L340.53,30.88 L341.46,30.05 L341.99,29.55 L343.42,29.55 L343.42,44.00Z" fill="#262626" stroke="#262626" stroke-width="0.38" stroke-linejoin="round"/>
<text x="347.75" y="55.00" font-family='"Liberation Sans", sans-serif' font-size="25" text-anchor="start" fill="#262626" stroke="#262626" stroke-width="0.38" >)</text>
<text x="366.45" y="55.00" font-family='"Liberation Sans", sans-serif' font-size="25" text-anchor="start" fill="#262626" stroke="#262626" stroke-width="0.38" >(</text>
<path d="M380.50,44.10 L376.00,59.30 M378.20,52.40 Q379.30,55.60 381.90,54.70 Q383.90,53.80 385.00,51.40 M387.20,44.60 L385.40,52.60 Q385.30,55.30 387.40,54.60 Q388.50,53.80 388.80,51.60" fill="none" stroke="#262626" stroke-width="1.8" stroke-linecap="round" stroke-linejoin="round"/>
<text x="391.34" y="55.00" font-family='"Liberation Sans", sans-serif' font-size="25" text-anchor="start" fill="#262626" stroke="#262626" stroke-width="0.38" >mol eq L</text>
<text x="491.77" y="44.00" font-family='"Liberation Sans", sans-serif' font-size="21" text-anchor="start" fill="#262626" stroke="#262626" stroke-width="0.38" >-</text>
<path d="M506.66,44.00 L506.66,32.11 L505.54,32.87 L504.41,33.49 L502.90,34.10 L502.90,32.36 L504.30,31.70 L505.43,30.88 L506.36,30.05 L506.89,29.55 L508.32,29.55 L508.32,44.00Z" fill="#262626" stroke="#262626" stroke-width="0.38" stroke-linejoin="round"/>
<text x="512.35" y="55.00" font-family='"Liberation Sans", sans-serif' font-size="25" text-anchor="start" fill="#262626" stroke="#262626" stroke-width="0.38" >)</text>
<text x="513.65" y="55.00" font-family='"Liberation Sans", sans-serif' font-size="25" text-anchor="start" fill="#262626" stroke="#262626" stroke-width="0.38" >(</text>
<text x="522.64" y="55.00" font-family='"Liberation Sans", sans-serif' font-size="25" text-anchor="start" fill="#262626" stroke="#262626" stroke-width="0.38" >mol eq mol</text>
<text x="648.17" y="44.00" font-family='"Liberation Sans", sans-serif' font-size="21" text-anchor="start" fill="#262626" stroke="#262626" stroke-width="0.38" >-</text>
<path d="M662.86,44.00 L662.86,32.11 L661.74,32.87 L660.61,33.49 L659.10,34.10 L659.10,32.36 L660.50,31.70 L661.63,30.88 L662.56,30.05 L663.09,29.55 L664.52,29.55 L664.52,44.00Z" fill="#262626" stroke="#262626" stroke-width="0.38" stroke-linejoin="round"/>
<text x="669.05" y="55.00" font-family='"Liberation Sans", sans-serif' font-size="25" text-anchor="start" fill="#262626" stroke="#262626" stroke-width="0.38" >)</text>
<text x="0" y="0" font-family='"Liberation Sans", sans-serif' font-size="25" text-anchor="middle" fill="#262626" stroke="#262626" stroke-width="0.38" transform="translate(18.0,181.2) rotate(-90)">Depth (m)</text>
<text x="0" y="0" font-family='"Liberation Sans", sans-serif' font-size="25" text-anchor="middle" fill="#262626" stroke="#262626" stroke-width="0.38" transform="translate(18.0,408.6) rotate(-90)">Depth (m)</text>
<text x="112.94" y="623.60" font-family='"Liberation Sans", sans-serif' font-size="25" text-anchor="start" fill="#262626" stroke="#262626" stroke-width="0.38" >T</text>
<text x="134.65" y="623.60" font-family='"Liberation Sans", sans-serif' font-size="25" text-anchor="start" fill="#262626" stroke="#262626" stroke-width="0.38" >(</text>
<text x="140.62" y="613.60" font-family='"Liberation Sans", sans-serif' font-size="21" text-anchor="start" fill="#262626" stroke="#262626" stroke-width="0.38" >o</text>
<text x="154.83" y="623.60" font-family='"Liberation Sans", sans-serif' font-size="25" text-anchor="start" fill="#262626" stroke="#262626" stroke-width="0.38" >C</text>
<text x="174.05" y="623.60" font-family='"Liberation Sans", sans-serif' font-size="25" text-anchor="start" fill="#262626" stroke="#262626" stroke-width="0.38" >)</text>
<text x="67.72" y="712.80" font-family='"Liberation Sans", sans-serif' font-size="25" text-anchor="start" fill="#262626" stroke="#262626" stroke-width="0.38" >O</text>
<text x="87.14" y="723.60" font-family='"Liberation Sans", sans-serif' font-size="21" text-anchor="start" fill="#262626" stroke="#262626" stroke-width="0.38" >2</text>
<text x="106.05" y="712.80" font-family='"Liberation Sans", sans-serif' font-size="25" text-anchor="start" fill="#262626" stroke="#262626" stroke-width="0.38" >(</text>
<path d="M118.90,701.90 L114.40,717.10 M116.60,710.20 Q117.70,713.40 120.30,712.50 Q122.30,711.60 123.40,709.20 M125.60,702.40 L123.80,710.40 Q123.70,713.10 125.80,712.40 Q126.90,711.60 127.20,709.40" fill="none" stroke="#262626" stroke-width="1.8" stroke-linecap="round" stroke-linejoin="round"/>
<text x="129.04" y="712.80" font-family='"Liberation Sans", sans-serif' font-size="25" text-anchor="start" fill="#262626" stroke="#262626" stroke-width="0.38" >mol L</text>
<text x="193.17" y="701.60" font-family='"Liberation Sans", sans-serif' font-size="21" text-anchor="start" fill="#262626" stroke="#262626" stroke-width="0.38" >-</text>
<path d="M208.36,701.60 L208.36,689.71 L207.24,690.47 L206.11,691.09 L204.60,691.70 L204.60,689.96 L206.00,689.30 L207.13,688.48 L208.06,687.65 L208.59,687.15 L210.02,687.15 L210.02,701.60Z" fill="#262626" stroke="#262626" stroke-width="0.38" stroke-linejoin="round"/>
<text x="214.25" y="712.80" font-family='"Liberation Sans", sans-serif' font-size="25" text-anchor="start" fill="#262626" stroke="#262626" stroke-width="0.38" >)</text>
<text x="609.83" y="212.50" font-family='"Liberation Sans", sans-serif' font-size="25" fill="#000" stroke="#000" stroke-width="0.38" >903</text>
<path d="M658.74,212.50 L658.74,198.34 L657.40,199.26 L656.06,199.99 L654.26,200.72 L654.26,198.65 L655.93,197.85 L657.28,196.88 L658.38,195.90 L659.01,195.30 L660.72,195.30 L660.72,212.50Z" fill="#000" stroke="#000" stroke-width="0.38" stroke-linejoin="round"/>
<path d="M617.30,346.40 L617.30,332.24 L615.96,333.16 L614.61,333.89 L612.82,334.62 L612.82,332.55 L614.49,331.75 L615.83,330.77 L616.93,329.80 L617.57,329.20 L619.28,329.20 L619.28,346.40Z" fill="#000" stroke="#000" stroke-width="0.38" stroke-linejoin="round"/>
<text x="624.00" y="346.40" font-family='"Liberation Sans", sans-serif' font-size="25" fill="#000" stroke="#000" stroke-width="0.38" >00</text>
<path d="M659.01,346.40 L659.01,332.24 L657.67,333.16 L656.32,333.89 L654.53,334.62 L654.53,332.55 L656.20,331.75 L657.54,330.77 L658.64,329.80 L659.28,329.20 L660.99,329.20 L660.99,346.40Z" fill="#000" stroke="#000" stroke-width="0.38" stroke-linejoin="round"/>
<text x="586.25" y="515.60" font-family='"Liberation Sans", sans-serif' font-size="25" fill="#000" stroke="#000" stroke-width="0.38" >Aug.0</text>
<path d="M658.79,515.60 L658.79,501.44 L657.44,502.36 L656.10,503.09 L654.31,503.82 L654.31,501.75 L655.98,500.95 L657.32,499.98 L658.42,499.00 L659.05,498.40 L660.76,498.40 L660.76,515.60Z" fill="#000" stroke="#000" stroke-width="0.38" stroke-linejoin="round"/>
<line x1="271.20" y1="581.60" x2="355.60" y2="581.60" stroke="#808080" stroke-width="5.6" />
<text x="364.14" y="591.80" font-family='"Liberation Sans", sans-serif' font-size="25" text-anchor="start" fill="#262626" stroke="#262626" stroke-width="0.38" >T</text>
<polyline points="271.60,619.40 355.60,619.40" fill="none" stroke="#8033FF" stroke-width="5.5" stroke-linecap="butt" stroke-linejoin="round" stroke-dasharray="5.4 5.77" />
<text x="363.52" y="626.60" font-family='"Liberation Sans", sans-serif' font-size="25" text-anchor="start" fill="#262626" stroke="#262626" stroke-width="0.38" >O</text>
<text x="383.04" y="637.20" font-family='"Liberation Sans", sans-serif' font-size="21" text-anchor="start" fill="#262626" stroke="#262626" stroke-width="0.38" >2</text>
<polyline points="271.60,656.80 355.60,656.80" fill="none" stroke="#008000" stroke-width="1.6" stroke-linecap="butt" stroke-linejoin="round" stroke-dasharray="27.9 16.3" />
<polygon points="322.74,655.80 320.41,661.41 314.80,663.74 309.19,661.41 306.86,655.80 309.19,650.19 314.80,647.86 320.41,650.19" fill="#fff" stroke="#008000" stroke-width="3.0" stroke-linejoin="miter"/>
<text x="363.43" y="666.00" font-family='"Liberation Sans", sans-serif' font-size="25" text-anchor="start" fill="#262626" stroke="#262626" stroke-width="0.38" >Chl-a</text>
</svg></div></body></html>
